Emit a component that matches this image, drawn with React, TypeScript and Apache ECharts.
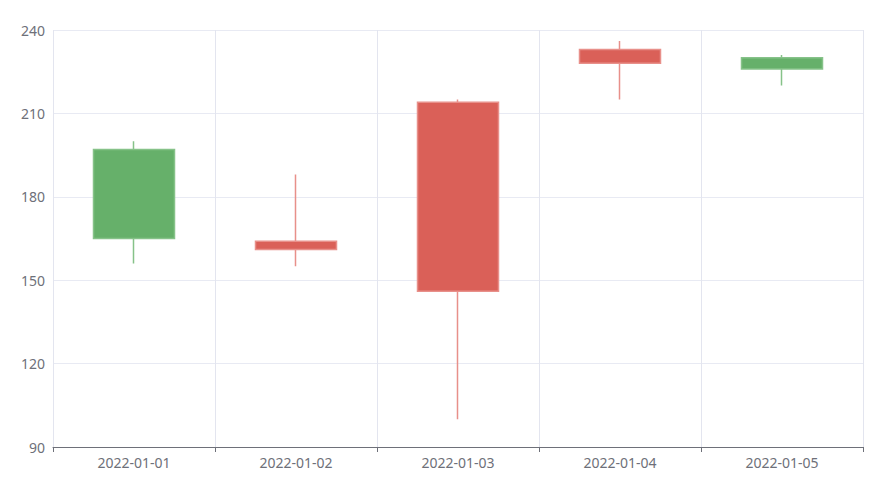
import React, { useEffect, useRef } from "react";
import * as echarts from "echarts";

const categories = ["2022-01-01", "2022-01-02", "2022-01-03", "2022-01-04", "2022-01-05"];
const openValues = [165, 164, 214, 233, 226];
const closeValues = [197, 161, 146, 228, 230];
const lowValues = [156, 155, 100, 215, 220];
const highValues = [200, 188, 215, 236, 231];

export default function App() {
  const ref = useRef<HTMLDivElement>(null);
  useEffect(() => {
    if (!ref.current) return;
    const chart = echarts.init(ref.current, undefined, { renderer: "svg" });
    const data = categories.map((_, i) => [openValues[i], closeValues[i], lowValues[i], highValues[i]]);
    chart.setOption({
      animation: false,
      textStyle: { fontFamily: "'Noto Sans', sans-serif" },
      grid: { left: 53, right: 19, top: 30, bottom: 41 },
      xAxis: {
        type: "category",
        data: categories,
        boundaryGap: true,
        axisLine: { lineStyle: { color: "#6e7079" } },
        axisTick: { show: true },
        axisLabel: { color: "#6e7079", fontSize: 14, margin: 8 },
        splitLine: { show: true, lineStyle: { color: "#e3e5ef" } },
      },
      yAxis: {
        type: "value",
        min: 90,
        max: 240,
        interval: 30,
        axisLabel: { color: "#6e7079", fontSize: 14, margin: 8 },
        splitLine: { show: true, lineStyle: { color: "#e8eaf3" } },
      },
      series: [
        {
          type: "candlestick",
          data,
          barWidth: "50%",
          itemStyle: {
            color: "#66b06a",
            color0: "#da6058",
            borderColor: "#86c289",
            borderColor0: "#e8908a",
            borderWidth: 1.5,
          },
        },
      ],
    });
    return () => chart.dispose();
  }, []);
  return <div ref={ref} style={{ width: 882, height: 488, position: "absolute", left: 0, top: 0 }} />;
}
